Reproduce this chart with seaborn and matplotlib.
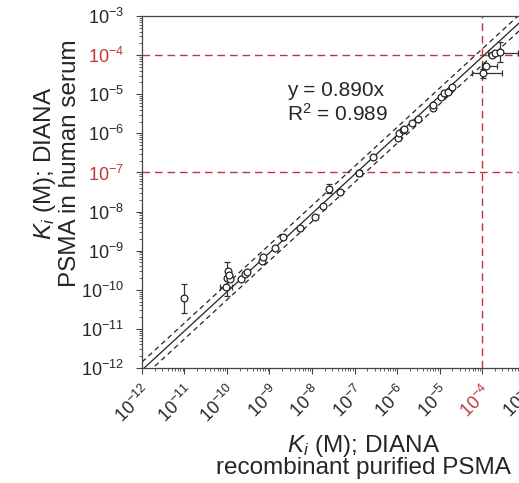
import numpy as np
import pandas as pd
import seaborn as sns
import matplotlib.pyplot as plt
from matplotlib.ticker import FixedLocator, LogLocator, NullFormatter

sns.set_style('ticks')
plt.rcParams['font.family'] = ['Liberation Sans', 'DejaVu Sans']
plt.rcParams['mathtext.fontset'] = 'custom'
plt.rcParams['mathtext.rm'] = 'Liberation Sans'
plt.rcParams['mathtext.it'] = 'Liberation Sans:italic'

# Ki values (M)
ki_purified = [1.0e-11, 1.0e-10, 1.05e-10, 1.15e-10, 0.95e-10, 1.1e-10, 2.1e-10, 2.6e-10,
               3.0e-10, 6.5e-10, 7.0e-10, 1.35e-9, 2.1e-9, 5.2e-9, 1.17e-8, 1.8e-8,
               2.5e-8, 4.6e-8, 1.3e-7, 2.75e-7, 1.07e-6, 1.1e-6, 1.35e-6, 1.5e-6,
               2.2e-6, 3.2e-6, 6.9e-6, 7.1e-6, 1.1e-5, 1.3e-5, 1.6e-5, 1.95e-5,
               1.05e-4, 1.23e-4, 1.7e-4, 2.0e-4, 2.6e-4]
ki_serum = [6.0e-11, 2.0e-10, 3.0e-10, 1.9e-10, 1.2e-10, 2.4e-10, 1.9e-10, 2.5e-10,
            2.8e-10, 5.5e-10, 7.0e-10, 1.15e-9, 2.3e-9, 3.7e-9, 7.2e-9, 1.4e-8,
            3.8e-8, 3.1e-8, 9.5e-8, 2.5e-7, 7.4e-7, 1.0e-6, 1.2e-6, 1.3e-6,
            1.8e-6, 2.4e-6, 4.5e-6, 5.2e-6, 8.7e-6, 1.05e-5, 1.15e-5, 1.5e-5,
            3.5e-5, 5.3e-5, 1.0e-4, 1.15e-4, 1.23e-4]

# vertical error bars
yerr_x = [1.0e-11, 1.0e-10, 2.5e-8, 1.3e-7, 1.05e-4, 2.6e-4]
yerr_y = [6.0e-11, 2.0e-10, 3.8e-8, 9.5e-8, 3.5e-5, 1.23e-4]
yerr_low = [2.6e-11, 7.0e-11, 3.0e-8, 8.0e-8, 2.6e-5, 6.8e-5]
yerr_high = [1.45e-10, 5.2e-10, 5.0e-8, 1.15e-7, 4.3e-5, 2.2e-4]

# horizontal error bars
xerr_x = [0.95e-10, 1.05e-4, 1.23e-4, 2.0e-4]
xerr_y = [1.2e-10, 3.5e-5, 5.3e-5, 1.15e-4]
xerr_low = [7.0e-11, 5.7e-5, 9.8e-5, 1.4e-4]
xerr_high = [1.3e-10, 2.9e-4, 2.3e-4, 7.0e-4]

# fit y = 0.890x with band
slope = 0.890
band = 1.6
fit_x = [1e-12, 1e-3]

# red threshold lines
thresh_y = [1e-4, 1e-7]
thresh_x = [1e-4]

decades = [1e-12, 1e-11, 1e-10, 1e-9, 1e-8, 1e-7, 1e-6, 1e-5, 1e-4, 1e-3]
decade_labels = ['$10^{-12}$', '$10^{-11}$', '$10^{-10}$', '$10^{-9}$', '$10^{-8}$',
                 '$10^{-7}$', '$10^{-6}$', '$10^{-5}$', '$10^{-4}$', '$10^{-3}$']

red = '#c0363c'

fig = plt.figure(figsize=(5.19, 4.83), dpi=100)
ax = fig.add_axes([0.2736, 0.238, 0.737, 0.7288])
ax.set_xscale('log')
ax.set_yscale('log')

fx = np.array(fit_x)
sns.lineplot(x=fx, y=slope * fx, color='#222222', lw=0.9, ax=ax)
sns.lineplot(x=fx, y=slope * fx * band, color='#222222', lw=0.9, ls=(0, (4, 3)), ax=ax)
sns.lineplot(x=fx, y=slope * fx / band, color='#222222', lw=0.9, ls=(0, (4, 3)), ax=ax)

for yv in thresh_y:
    ax.axhline(yv, color=red, lw=1, ls=(0, (5.5, 3.5)), zorder=1)
for xv in thresh_x:
    ax.axvline(xv, color=red, lw=1, ls=(0, (5.5, 3.5)), zorder=1)

ey = np.array(yerr_y)
ax.errorbar(yerr_x, yerr_y, yerr=[ey - np.array(yerr_low), np.array(yerr_high) - ey],
            fmt='none', ecolor='#333333', elinewidth=0.9, capsize=2.5, capthick=0.9, zorder=3)
ex = np.array(xerr_x)
ax.errorbar(xerr_x, xerr_y, xerr=[ex - np.array(xerr_low), np.array(xerr_high) - ex],
            fmt='none', ecolor='#333333', elinewidth=0.9, capsize=2.5, capthick=0.9, zorder=3)

df = pd.DataFrame({'purified': ki_purified, 'serum': ki_serum})
sns.scatterplot(data=df, x='purified', y='serum', marker='o', s=24, facecolor='white',
                edgecolor='#222222', linewidth=0.9, ax=ax, zorder=4)

ax.set_xlim(1e-12, 1e-3)
ax.set_ylim(1e-12, 1e-3)

ax.xaxis.set_major_locator(FixedLocator(decades))
ax.yaxis.set_major_locator(FixedLocator(decades))
ax.xaxis.set_minor_locator(LogLocator(base=10, subs=np.arange(2, 10), numticks=20))
ax.yaxis.set_minor_locator(LogLocator(base=10, subs=np.arange(2, 10), numticks=20))
ax.xaxis.set_minor_formatter(NullFormatter())
ax.yaxis.set_minor_formatter(NullFormatter())
ax.set_xticklabels(decade_labels, fontsize=13, rotation=45, ha='right', va='top',
                   rotation_mode='anchor')
ax.set_yticklabels(decade_labels, fontsize=13)
ax.tick_params(which='major', direction='out', length=4, width=0.8, color='#444444')
ax.tick_params(axis='y', which='major', pad=9)
ax.tick_params(axis='x', which='major', pad=6)
ax.tick_params(which='minor', direction='out', length=2.5, width=0.6, color='#444444')

for lbl, v in zip(ax.get_yticklabels(), decades):
    if v in thresh_y:
        lbl.set_color(red)
for lbl, v in zip(ax.get_xticklabels(), decades):
    if v in thresh_x:
        lbl.set_color(red)

for side in ['left', 'bottom', 'top', 'right']:
    ax.spines[side].set_visible(True)
    ax.spines[side].set_color('#444444')
    ax.spines[side].set_linewidth(0.9)

ax.text(0.379, 0.815, 'y = 0.890x\nR$^2$ = 0.989', transform=ax.transAxes,
        ha='left', va='top', fontsize=15, linespacing=1.15)

ax.set_xlabel('$K_i$ (M); DIANA\nrecombinant purified PSMA', fontsize=17.5, linespacing=0.85)
ax.xaxis.set_label_coords(0.58, -0.185)
ax.xaxis.label.set_va('top')
ax.set_ylabel('$K_i$ (M); DIANA\nPSMA in human serum', fontsize=17.5, linespacing=1.05)
ax.yaxis.set_label_coords(-0.16, 0.582)

fig.savefig('out.png', dpi=100)
